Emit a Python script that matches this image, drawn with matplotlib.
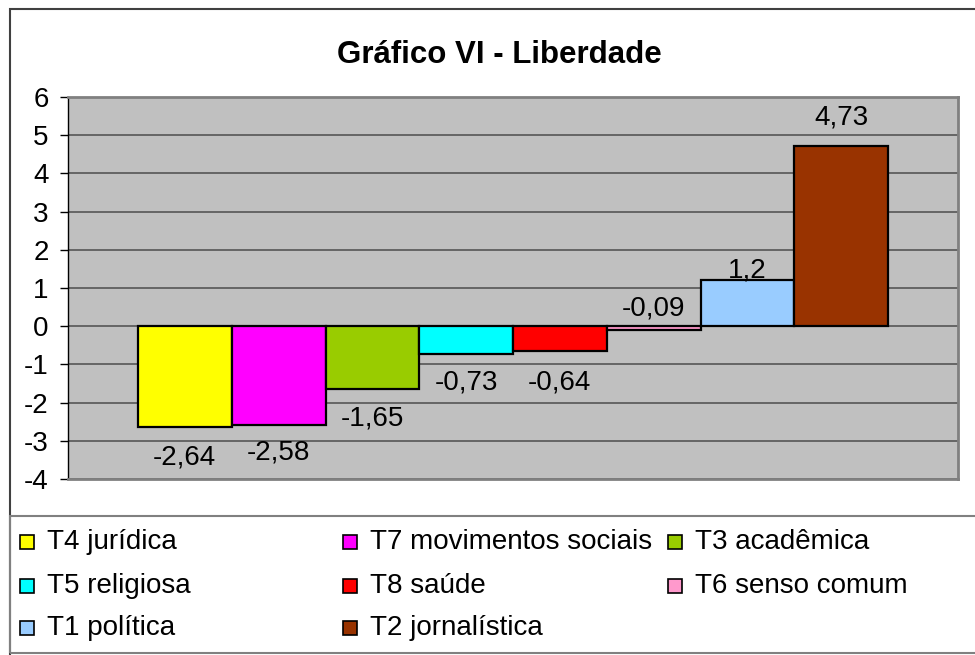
import matplotlib
matplotlib.use('Agg')

import matplotlib.pyplot as plt
import matplotlib.patches as mpatches

plt.rcParams['font.family'] = ['Liberation Sans', 'DejaVu Sans']

# data
categories = ['T4 jurídica', 'T7 movimentos sociais', 'T3 acadêmica', 'T5 religiosa',
              'T8 saúde', 'T6 senso comum', 'T1 política', 'T2 jornalística']
values = [-2.64, -2.58, -1.65, -0.73, -0.64, -0.09, 1.2, 4.73]
colors = ['#FFFF00', '#FF00FF', '#99CC00', '#00FFFF',
          '#FF0000', '#FF99CC', '#99CCFF', '#993300']
yticks = list(range(-4, 7))

W, H = 975, 655
FONT = 20

# label offsets in pixels (Excel placed a couple of them oddly)
label_offsets = [-30, -28, -29, -28, -32, 18, 10, 28]


def px_x(x):
	return x / W


def px_y(y):
	return (H - y) / H


fig = plt.figure(figsize=(W / 100, H / 100), dpi=100)

# outer chart border and legend box
fig.add_artist(mpatches.Rectangle((px_x(10), px_y(660)), 1.0, px_y(9) - px_y(660),
				transform=fig.transFigure, fill=False, edgecolor='#404040', linewidth=1.5))
fig.add_artist(mpatches.Rectangle((px_x(10), px_y(653)), 1.0, px_y(516) - px_y(653),
				transform=fig.transFigure, fill=False, edgecolor='#808080', linewidth=1.5))

ax = fig.add_axes([px_x(68), px_y(479), px_x(958) - px_x(68), px_y(97) - px_y(479)])
ax.set_facecolor('#C0C0C0')

x = range(len(values))
ax.bar(x, values, width=1.0, color=colors, edgecolor='#000000', linewidth=1.6, zorder=3)

gap = 70 / 93.75
ax.set_xlim(-0.5 - gap, len(values) - 0.5 + gap)
ax.set_ylim(-4, 6)
ax.set_yticks(yticks)
ax.set_yticklabels([str(t) for t in yticks], fontsize=FONT)
ax.set_xticks([])
ax.grid(axis='y', color='#4D4D4D', linewidth=1.1, zorder=1)
ax.tick_params(axis='y', direction='out', length=6, width=1, pad=8, color='#000000')

for side in ['top', 'right', 'bottom']:
	ax.spines[side].set_color('#808080')
	ax.spines[side].set_linewidth(2)
ax.spines['left'].set_color('#000000')
ax.spines['left'].set_linewidth(1)

for i, v in enumerate(values):
	base = v
	if label_offsets[i] > 0:
		base = max(v, 0)
	ax.annotate(('%g' % v).replace('.', ','), xy=(i, base), xycoords='data',
				xytext=(0, label_offsets[i] * 0.72), textcoords='offset points',
				ha='center', va='center', fontsize=FONT, zorder=4)

fig.text(px_x(499), px_y(55), 'Gráfico VI - Liberdade', ha='center', va='center',
		 fontsize=22.5, fontweight='bold')

# legend laid out in rows of three like the original
col_x = [20, 343, 668]
row_y = [542, 586, 628]
for i, (cat, col) in enumerate(zip(categories, colors)):
	cx = col_x[i % 3]
	cy = row_y[i // 3]
	fig.add_artist(mpatches.Rectangle((px_x(cx), px_y(cy + 7)), 14 / W, 14 / H,
					transform=fig.transFigure, facecolor=col, edgecolor='#000000', linewidth=1.2))
	fig.text(px_x(cx + 27), px_y(cy), cat, ha='left', va='center', fontsize=FONT)

fig.savefig('out.png', dpi=100)
